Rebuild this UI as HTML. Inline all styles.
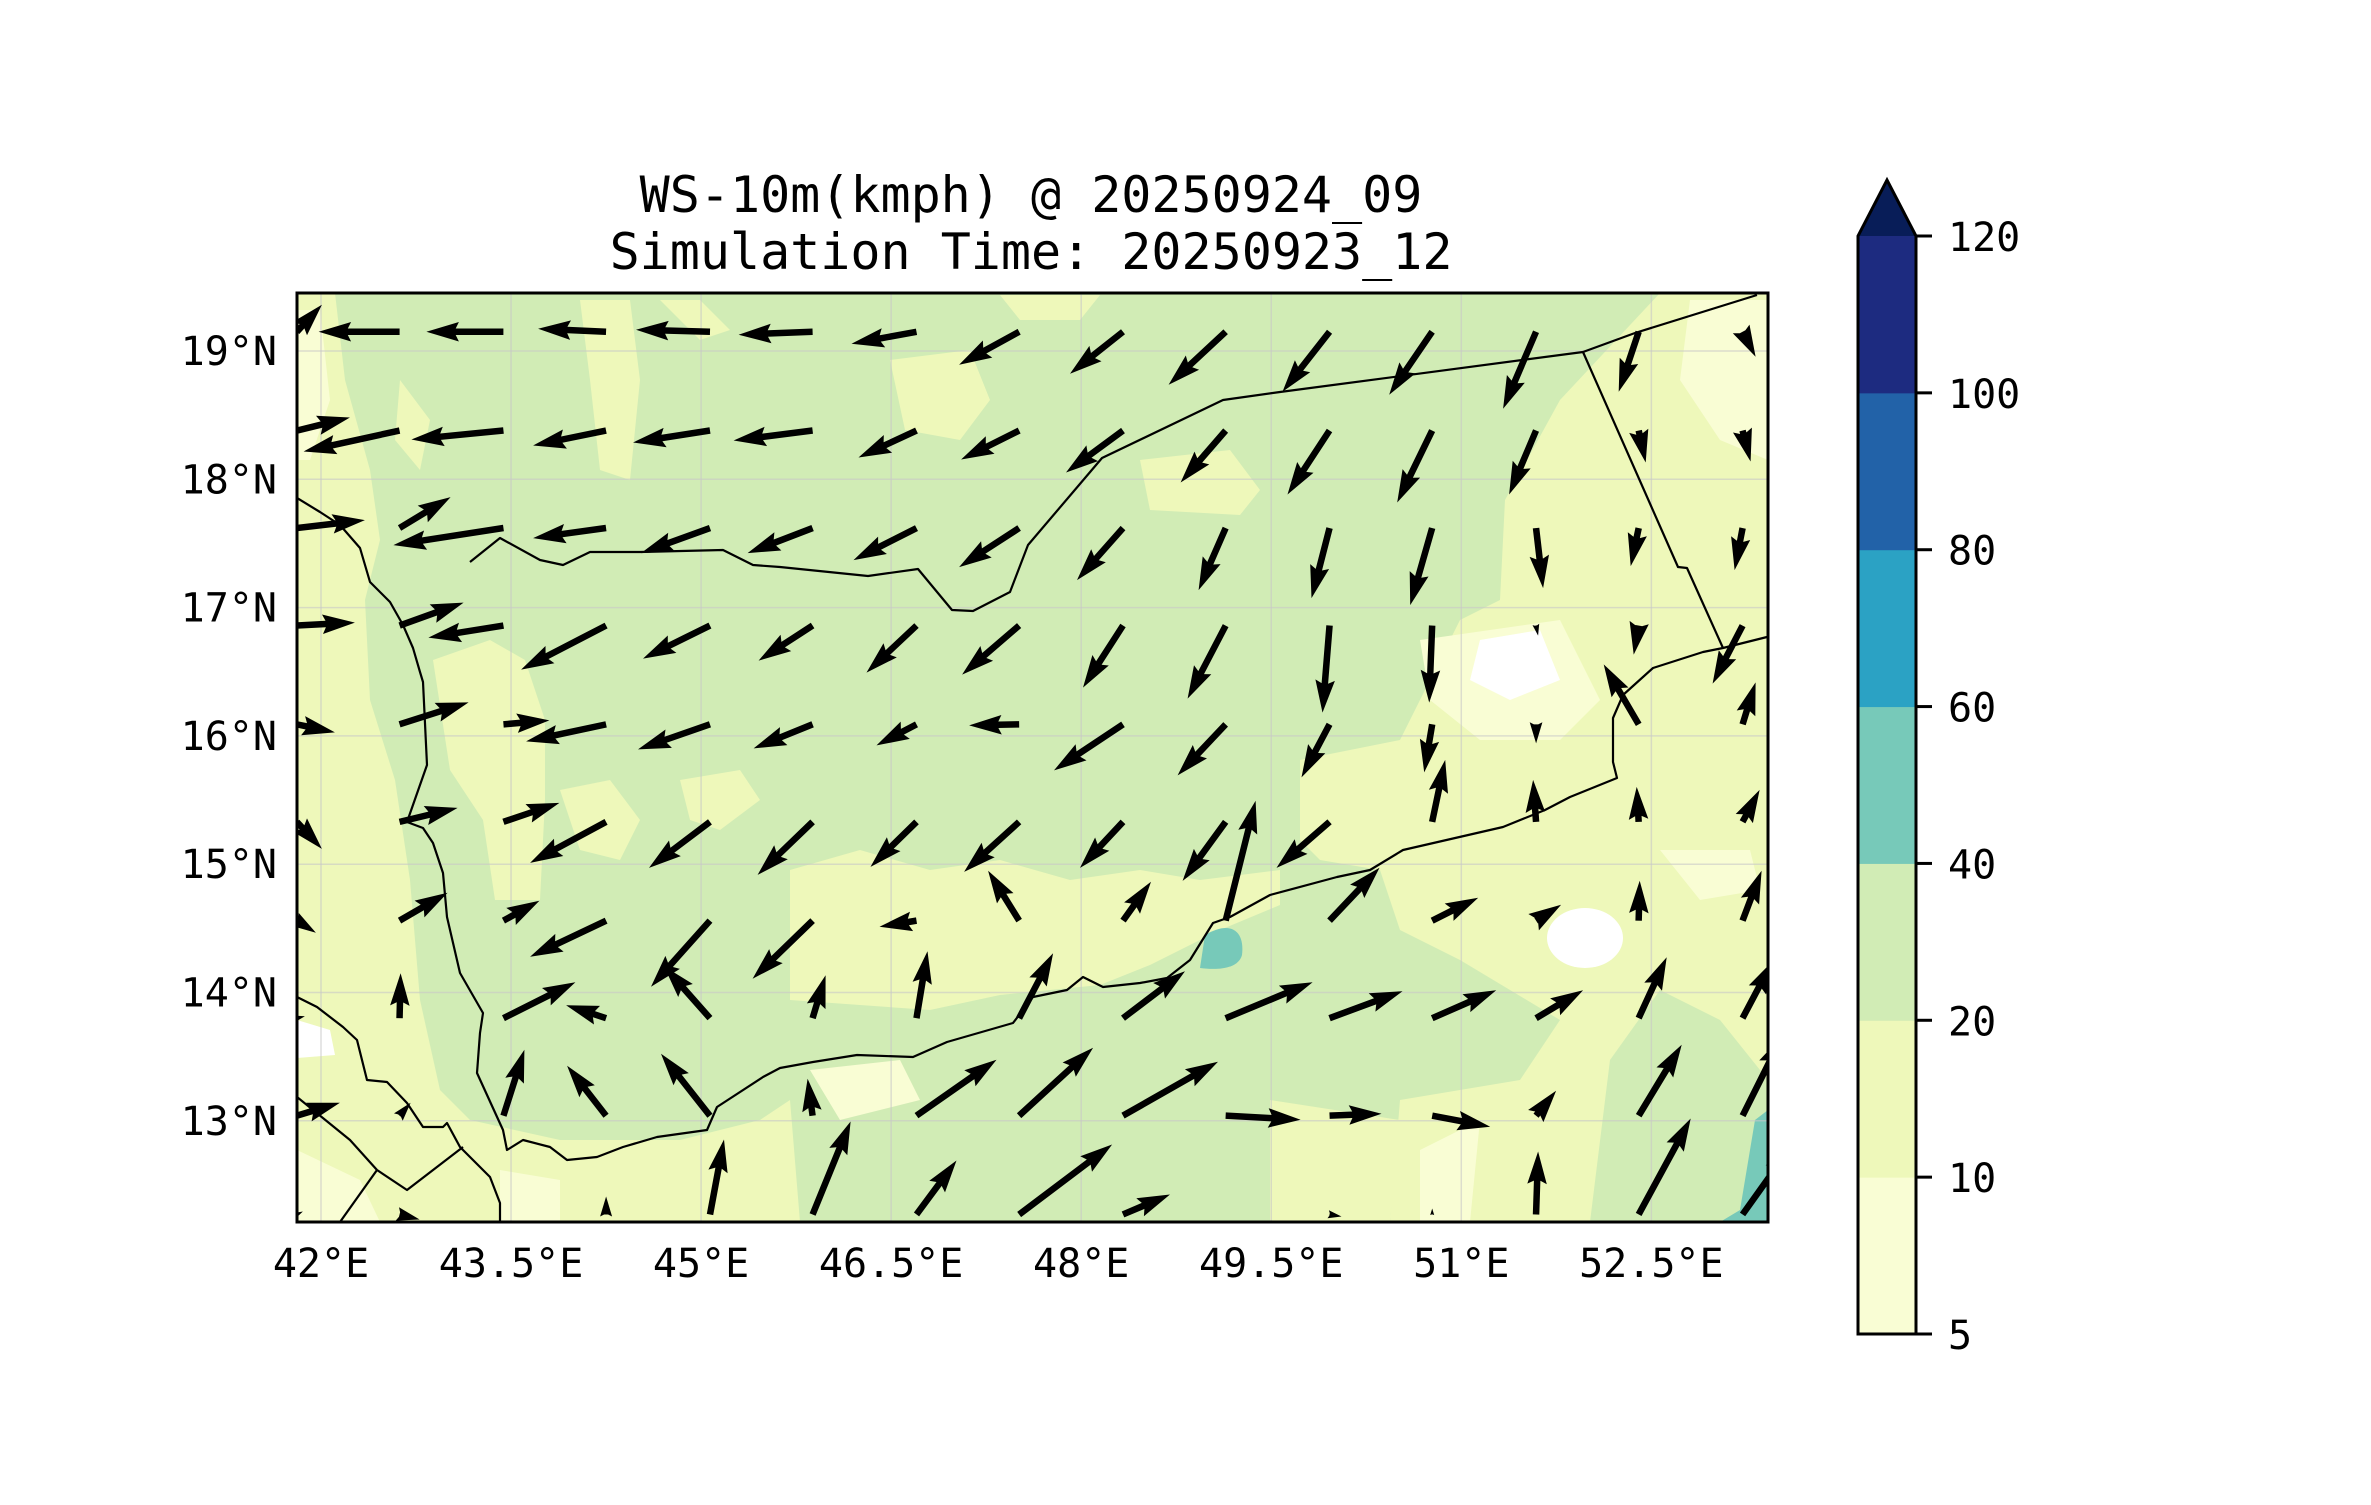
<!DOCTYPE html>
<html><head><meta charset="utf-8"><style>
html,body{margin:0;padding:0;background:#fff;}
svg text{font-family:"DejaVu Sans Mono","Liberation Mono",monospace;fill:#000;}
</style></head><body>
<svg id="chart" width="2371" height="1500" viewBox="0 0 2371 1500" xmlns="http://www.w3.org/2000/svg">
<rect width="2371" height="1500" fill="#fff"/>
<text x="1031" y="212" font-size="50" text-anchor="middle">WS-10m(kmph) @ 20250924_09</text>
<text x="1031" y="269" font-size="50" text-anchor="middle">Simulation Time: 20250923_12</text>
<defs><clipPath id="mapclip"><rect x="297" y="293" width="1471" height="929"/></clipPath></defs>
<g id="field" clip-path="url(#mapclip)">
  <rect x="297" y="293" width="1471" height="929" fill="#d1ecb5"/>
  <g fill="#eef8ba">
    <!-- west strip -->
    <path d="M297,293 L335,293 L345,380 L370,470 L380,540 L365,600 L370,700 L395,780 L410,880 L420,1000 L440,1090 L470,1120 L560,1140 L680,1140 L760,1120 L790,1100 L800,1222 L297,1222 Z"/>
    <!-- inland Red Sea yellow bits -->
    <path d="M433,660 L490,640 L525,660 L545,720 L545,800 L540,900 L495,900 L483,820 L450,770 Z"/>
    <path d="M400,380 L430,420 L420,470 L395,440 Z"/>
    <!-- middle band -->
    <path d="M790,870 L860,850 L930,870 L1000,860 L1070,880 L1140,870 L1200,880 L1280,870 L1280,905 L1220,930 L1150,965 L1100,985 L1000,995 L930,1010 L860,1005 L790,1000 Z"/>
    <path d="M560,790 L610,780 L640,820 L620,860 L580,850 Z"/>
    <path d="M680,780 L740,770 L760,800 L720,830 L690,820 Z"/>
    <!-- east -->
    <path d="M1660,293 L1768,293 L1768,1080 L1720,1020 L1660,990 L1610,1060 L1590,1222 L1390,1222 L1400,1100 L1520,1080 L1560,1020 L1460,960 L1400,930 L1380,870 L1320,860 L1300,840 L1300,760 L1400,740 L1420,700 L1460,620 L1500,600 L1505,500 L1560,400 Z"/>
    <path d="M1270,1100 L1400,1120 L1390,1222 L1270,1222 Z"/>
    <!-- north patches -->
    <path d="M890,360 L970,350 L990,400 L960,440 L905,430 Z"/>
    <path d="M1140,460 L1230,450 L1260,490 L1240,515 L1150,510 Z"/>
    <path d="M580,300 L630,300 L640,380 L630,480 L600,470 L590,380 Z"/>
    <path d="M660,300 L700,300 L730,330 L700,340 Z"/>
    <path d="M1000,295 L1100,295 L1080,320 L1020,320 Z"/>
  </g>
  <g fill="#f9fdd4">
    <path d="M1690,300 L1768,300 L1768,460 L1720,440 L1680,380 Z"/>
    <path d="M1420,640 L1560,620 L1600,700 L1560,740 L1480,740 L1430,700 Z"/>
    <path d="M1660,850 L1750,850 L1760,890 L1700,900 Z"/>
    <path d="M810,1070 L900,1060 L920,1100 L840,1120 Z"/>
    <path d="M297,310 L320,310 L330,400 L310,460 L297,460 Z"/>
    <path d="M297,1150 L360,1180 L380,1222 L297,1222 Z"/>
    <path d="M1420,1150 L1480,1120 L1470,1222 L1420,1222 Z"/>
    <path d="M500,1170 L560,1180 L560,1222 L500,1222 Z"/>
  </g>
  <g fill="#ffffff">
    <path d="M1480,640 L1540,630 L1560,680 L1510,700 L1470,680 Z"/>
    <ellipse cx="1585" cy="938" rx="38" ry="30"/>
    <path d="M297,1020 L330,1030 L335,1055 L297,1058 Z"/>
  </g>
  <path fill="#77c9b9" d="M1205,935 C1230,920 1245,930 1242,955 C1238,970 1215,970 1200,968 Z"/>
  <path fill="#77c9b9" d="M1755,1120 L1768,1110 L1768,1222 L1720,1222 L1740,1210 Z"/>
</g>
<g id="gridlines" stroke="#c8c8c8" stroke-opacity="0.6" stroke-width="1.5"></g>
<g id="coasts" clip-path="url(#mapclip)" fill="none" stroke="#000" stroke-width="2.2" stroke-linejoin="round">
  <polyline points="470,562 500,538 540,560 563,565 590,552 640,552 723,550 753,565 780,567 868,576 918,569 952,610 973,611 1010,592 1028,545 1102,458 1223,400 1280,392 1583,352 1635,333 1757,295"/>
  <polyline points="1583,352 1678,567 1687,568 1723,648"/>
  <polyline points="1767,637 1723,648 1703,652 1653,668 1623,695 1613,718 1613,762 1617,778 1570,797 1545,810 1503,827 1403,850 1370,870 1337,877 1270,895 1230,917 1213,923 1190,960 1167,978 1140,983 1103,987 1083,977 1067,990 1033,997 1013,1023 947,1042 913,1057 857,1055 813,1062 780,1068 763,1077 717,1107 707,1130 657,1137 623,1147 597,1157 567,1160 550,1147 523,1140 507,1150 503,1130 477,1073 480,1033 483,1013 460,973 447,917 443,873 433,843 423,828 407,822 427,765 423,682 420,672 413,648 403,625 390,602 370,582 360,548 340,525 320,512 297,498"/>
  <polyline points="297,997 317,1007 343,1027 357,1040 367,1080 387,1082 407,1103 423,1127 443,1127 447,1123 460,1147 490,1177 500,1203 500,1222"/>
  <polyline points="297,1097 350,1140 377,1170 407,1190 463,1147"/>
  <polyline points="340,1222 377,1170"/>
</g>
<g id="arrows"></g>
<rect x="297" y="293" width="1471" height="929" fill="none" stroke="#000" stroke-width="3"/>
<g id="xticks"></g>
<g id="yticks"></g>
<g id="colorbar"></g>
</svg>
<script>
// ---- data ----
const lonTicks = [42, 43.5, 45, 46.5, 48, 49.5, 51, 52.5];
const lonLabels = ["42°E","43.5°E","45°E","46.5°E","48°E","49.5°E","51°E","52.5°E"];
const latTicks = [13, 14, 15, 16, 17, 18, 19];
const latLabels = ["13°N","14°N","15°N","16°N","17°N","18°N","19°N"];
const cbLevels = [5, 10, 20, 40, 60, 80, 100, 120];
const cbColors = ["#f9fdd4","#eef8ba","#d1ecb5","#77c9b9","#2ba2c4","#2262a8","#1d2b80"];
const cbExtendColor = "#081d58";
const gridLon = [41.81,42.62,43.44,44.25,45.07,45.88,46.70,47.51,48.33,49.14,49.96,50.77,51.59,52.40,53.22];
const gridLat = [19.15,18.38,17.62,16.86,16.09,15.33,14.56,13.80,13.04,12.27];
const uRows = [
 [25,-81,-77,-68,-74,-74,-65,-60,-53,-57,-47,-43,-33,-20,13],
 [53,-96,-92,-73,-77,-79,-58,-58,-57,-45,-42,-35,-27,7,8],
 [68,51,-110,-73,-69,-65,-63,-60,-46,-27,-18,-22,7,-8,-8],
 [58,64,-75,-85,-67,-54,-50,-57,-40,-38,-7,-3,2,-5,-30],
 [38,69,46,-80,-72,-59,-40,-50,-69,-48,-28,-8,0,-35,13],
 [25,58,56,-76,-61,-55,-46,-55,-43,-43,-53,13,-3,-2,17],
 [19,48,36,-76,-59,-60,-37,-31,28,30,50,46,25,1,19],
 [8,1,72,-40,-46,13,11,34,62,87,73,64,47,28,30],
 [43,11,21,-39,-49,-5,80,74,95,75,52,58,20,43,40],
 [6,20,2,0,14,38,40,93,47,3,12,0,2,52,50]
];
const vRows = [
 [27,0,0,3,2,-3,-12,-33,-42,-53,-60,-63,-77,-60,-25],
 [13,-21,-9,-15,-12,-10,-27,-29,-42,-52,-64,-72,-64,-32,-31],
 [8,31,-17,-10,-25,-25,-32,-39,-52,-62,-70,-77,-60,-38,-42],
 [3,23,-12,-44,-33,-35,-47,-49,-62,-73,-87,-77,-10,-29,-58],
 [-8,22,4,-17,-25,-24,-21,-1,-46,-51,-53,-48,-19,60,42],
 [-27,14,19,-41,-46,-53,-45,-50,-46,-59,-46,62,42,35,32],
 [-12,28,20,-36,-66,-58,-6,50,39,120,53,23,16,40,50],
 [2,45,36,13,52,43,67,65,47,36,27,28,28,61,57],
 [13,13,66,50,62,37,56,68,54,-4,2,-11,25,71,80],
 [3,-5,2,18,75,93,54,70,20,2,-2,6,63,96,70]
];
const vecScale = 1.0;

const X0 = 297, X1 = 1768, Y0 = 293, Y1 = 1222;
function xOf(lon){ return 321 + (lon - 42) * 126.7; }
function yOf(lat){ return 351 + (19 - lat) * 128.3; }
const CB = {x:1858, w:58, top:236, bottom:1334};
function cbY(i){ return CB.bottom - i * (CB.bottom - CB.top) / (cbLevels.length - 1); }
const NS = "http://www.w3.org/2000/svg";
function mk(tag, attrs, parent){ const e = document.createElementNS(NS, tag); for (const k in attrs) e.setAttribute(k, attrs[k]); parent.appendChild(e); return e; }

const gl = document.getElementById('gridlines');
lonTicks.forEach(function(lon){
  const l = mk('line', {x1:xOf(lon), x2:xOf(lon), y1:Y0, y2:Y1}, gl);
  
  
});
latTicks.forEach(function(lat){
  const l = mk('line', {x1:X0, x2:X1, y1:yOf(lat), y2:yOf(lat)}, gl);
  
  
});
const xt = document.getElementById('xticks');
lonTicks.forEach(function(lon, i){
  const t = mk('text', {x:xOf(lon), y:1277, 'font-size':40, 'text-anchor':'middle'}, xt);
  t.textContent = lonLabels[i];
  
  
});
const yt = document.getElementById('yticks');
latTicks.forEach(function(lat, i){
  const t = mk('text', {x:277, y:yOf(lat) + 14, 'font-size':40, 'text-anchor':'end'}, yt);
  t.textContent = latLabels[i];
  
  
});

const ag = document.getElementById('arrows');
const W = 6.5, HL = 5 * W, HAL = 4.5 * W, HW = 3 * W;
for (let r = 0; r < gridLat.length; r++){
  for (let c = 0; c < gridLon.length; c++){
    const dx = uRows[r][c] * vecScale, dy = -vRows[r][c] * vecScale;
    const L = Math.hypot(dx, dy);
    if (L < 4) continue;
    let s = 1, len = L;
    if (L < HAL) { s = L / HAL; }
    const w = W * s, hl = HL * s, hal = HAL * s, hw = HW * s;
    const pts = [[0,-w/2],[len-hal,-w/2],[len-hl,-hw/2],[len,0],[len-hl,hw/2],[len-hal,w/2],[0,w/2]];
    const ang = Math.atan2(dy, dx), ca = Math.cos(ang), sa = Math.sin(ang);
    const tx = xOf(gridLon[c]), ty = yOf(gridLat[r]);
    const p = pts.map(function(q){ return (tx + q[0]*ca - q[1]*sa).toFixed(1) + ',' + (ty + q[0]*sa + q[1]*ca).toFixed(1); }).join(' ');
    const el = mk('polygon', {points:p, fill:'#000', 'clip-path':'url(#mapclip)'}, ag);
    
    
  }
}

const cb = document.getElementById('colorbar');
for (let i = 0; i < cbColors.length; i++){
  const y1 = cbY(i + 1), y0 = cbY(i);
  const rr = mk('rect', {x:CB.x, y:y1, width:CB.w, height:(y0 - y1) + 0.5, fill:cbColors[i]}, cb);
  
  
}
const tip = mk('polygon', {points:(CB.x)+','+CB.top+' '+(CB.x+CB.w/2)+','+(CB.top-56)+' '+(CB.x+CB.w)+','+CB.top, fill:cbExtendColor}, cb);


const outline = mk('polygon', {points:CB.x+','+CB.bottom+' '+CB.x+','+CB.top+' '+(CB.x+CB.w/2)+','+(CB.top-56)+' '+(CB.x+CB.w)+','+CB.top+' '+(CB.x+CB.w)+','+CB.bottom, fill:'none', stroke:'#000', 'stroke-width':3}, cb);


cbLevels.forEach(function(lv, i){
  const y = cbY(i);
  const tk = mk('line', {x1:CB.x+CB.w, x2:CB.x+CB.w+16, y1:y, y2:y, stroke:'#000', 'stroke-width':3}, cb);
  
  
  const t = mk('text', {x:1948, y:y + 15, 'font-size':40}, cb);
  t.textContent = String(lv);
  
  
});
</script>
</body></html>
